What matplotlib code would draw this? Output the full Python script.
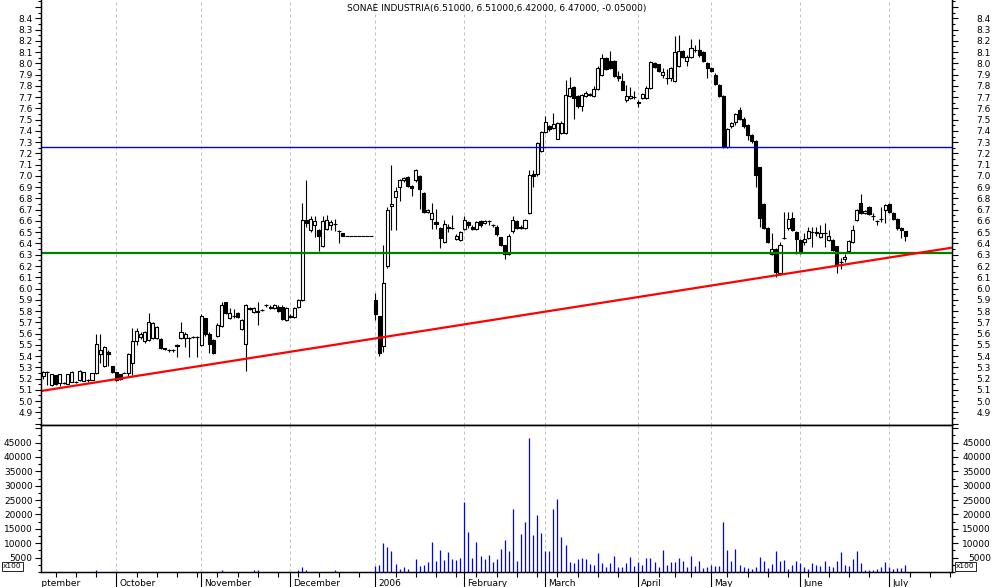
import numpy as np
import pandas as pd
import matplotlib
matplotlib.use('Agg')
import matplotlib.pyplot as plt
from matplotlib.patches import Rectangle
from matplotlib.collections import PatchCollection
from matplotlib.ticker import MultipleLocator, FixedLocator, FuncFormatter
from matplotlib.transforms import Bbox, TransformedBbox, blended_transform_factory, offset_copy

plt.rcParams['font.family'] = ['DejaVu Sans']
plt.rcParams['font.size'] = 6.5

# daily candles (open, high, low, close), one list per month
sep = [(5.22, 5.27, 5.20, 5.26), (5.26, 5.27, 5.14, 5.26), (5.14, 5.24, 5.13, 5.24), (5.23, 5.23, 5.14, 5.15),
       (5.16, 5.24, 5.13, 5.24), (5.16, 5.17, 5.15, 5.16), (5.15, 5.24, 5.15, 5.24), (5.17, 5.27, 5.17, 5.26),
       (5.17, 5.18, 5.16, 5.17), (5.19, 5.28, 5.18, 5.27), (5.18, 5.26, 5.18, 5.26), (5.19, 5.20, 5.17, 5.19),
       (5.19, 5.25, 5.19, 5.25), (5.25, 5.60, 5.24, 5.51), (5.42, 5.60, 5.34, 5.45), (5.31, 5.49, 5.30, 5.48),
       (5.44, 5.45, 5.31, 5.42), (5.31, 5.31, 5.25, 5.26)]
oct_ = [(5.26, 5.26, 5.18, 5.19), (5.24, 5.24, 5.19, 5.20), (5.25, 5.26, 5.25, 5.25), (5.25, 5.43, 5.22, 5.42),
        (5.34, 5.65, 5.23, 5.53), (5.53, 5.65, 5.50, 5.62), (5.57, 5.61, 5.55, 5.60), (5.53, 5.62, 5.52, 5.61),
        (5.54, 5.78, 5.53, 5.70), (5.56, 5.70, 5.55, 5.69), (5.56, 5.67, 5.55, 5.66), (5.55, 5.56, 5.46, 5.47),
        (5.47, 5.47, 5.45, 5.46), (5.45, 5.46, 5.44, 5.45), (5.45, 5.46, 5.44, 5.45), (5.50, 5.51, 5.39, 5.49),
        (5.56, 5.70, 5.55, 5.61), (5.56, 5.61, 5.48, 5.60), (5.56, 5.57, 5.39, 5.56), (5.57, 5.58, 5.56, 5.57),
        (5.57, 5.58, 5.39, 5.57)]
nov = [(5.50, 5.77, 5.49, 5.76), (5.74, 5.74, 5.58, 5.60), (5.60, 5.61, 5.43, 5.51), (5.54, 5.55, 5.42, 5.43),
       (5.58, 5.69, 5.57, 5.68), (5.67, 5.88, 5.66, 5.85), (5.88, 5.88, 5.77, 5.78), (5.74, 5.83, 5.73, 5.78),
       (5.76, 5.82, 5.74, 5.76), (5.78, 5.79, 5.74, 5.75), (5.64, 5.73, 5.63, 5.72), (5.51, 5.86, 5.27, 5.85),
       (5.83, 5.84, 5.81, 5.82), (5.79, 5.84, 5.78, 5.83), (5.79, 5.88, 5.68, 5.80), (5.81, 5.82, 5.80, 5.81),
       (5.85, 5.86, 5.84, 5.85), (5.83, 5.85, 5.82, 5.84), (5.83, 5.86, 5.82, 5.85), (5.84, 5.85, 5.79, 5.80),
       (5.84, 5.85, 5.72, 5.73), (5.72, 5.84, 5.71, 5.83)]
dec = [(5.76, 5.77, 5.74, 5.75), (5.75, 5.84, 5.74, 5.83), (5.84, 5.91, 5.83, 5.90), (5.90, 6.76, 5.89, 6.61),
       (6.61, 6.96, 6.55, 6.58), (6.52, 6.64, 6.50, 6.62), (6.56, 6.64, 6.46, 6.60), (6.52, 6.53, 6.33, 6.47),
       (6.38, 6.64, 6.37, 6.60), (6.53, 6.65, 6.52, 6.61), (6.56, 6.61, 6.52, 6.59), (6.57, 6.62, 6.51, 6.57),
       (6.51, 6.52, 6.40, 6.51), (6.49, 6.49, 6.47, 6.47), (6.47, 6.47, 6.47, 6.47), (6.47, 6.47, 6.47, 6.47),
       (6.47, 6.47, 6.47, 6.47), (6.47, 6.47, 6.47, 6.47), (6.47, 6.47, 6.47, 6.47), (6.47, 6.47, 6.47, 6.47),
       (6.47, 6.47, 6.47, 6.47)]
jan = [(5.90, 5.96, 5.72, 5.77), (5.76, 5.76, 5.40, 5.43), (5.49, 6.39, 5.44, 6.05), (6.20, 6.72, 6.18, 6.70),
       (6.73, 7.10, 6.52, 6.75), (6.81, 6.90, 6.52, 6.87), (6.90, 6.97, 6.78, 6.96), (6.96, 6.99, 6.95, 6.98),
       (6.99, 7.00, 6.90, 6.91), (6.91, 6.92, 6.82, 6.89), (6.96, 7.06, 6.95, 7.05), (7.00, 7.01, 6.71, 6.88),
       (6.85, 6.86, 6.67, 6.68), (6.68, 6.71, 6.67, 6.70), (6.62, 6.76, 6.53, 6.67), (6.59, 6.71, 6.53, 6.57),
       (6.54, 6.55, 6.36, 6.45), (6.41, 6.61, 6.40, 6.57), (6.54, 6.57, 6.50, 6.55), (6.54, 6.65, 6.53, 6.54),
       (6.44, 6.48, 6.43, 6.47), (6.43, 6.51, 6.42, 6.50)]
feb = [(6.53, 6.64, 6.52, 6.61), (6.59, 6.60, 6.54, 6.56), (6.55, 6.56, 6.52, 6.53), (6.53, 6.60, 6.52, 6.59),
       (6.60, 6.61, 6.55, 6.56), (6.58, 6.61, 6.57, 6.60), (6.60, 6.61, 6.56, 6.60), (6.56, 6.57, 6.55, 6.56),
       (6.55, 6.56, 6.47, 6.48), (6.46, 6.46, 6.38, 6.39), (6.39, 6.39, 6.26, 6.31), (6.31, 6.48, 6.30, 6.47),
       (6.51, 6.64, 6.49, 6.61), (6.60, 6.61, 6.53, 6.54), (6.54, 6.56, 6.53, 6.55), (6.54, 6.62, 6.53, 6.61),
       (6.67, 7.05, 6.66, 7.01), (7.02, 7.05, 6.90, 7.00), (7.02, 7.30, 7.00, 7.29), (7.22, 7.40, 7.21, 7.39)]
mar = [(7.39, 7.53, 7.38, 7.48), (7.44, 7.45, 7.40, 7.42), (7.43, 7.56, 7.42, 7.46), (7.33, 7.48, 7.33, 7.47),
       (7.38, 7.49, 7.37, 7.47), (7.38, 7.85, 7.37, 7.72), (7.71, 7.88, 7.70, 7.78), (7.79, 7.80, 7.51, 7.69),
       (7.71, 7.72, 7.60, 7.62), (7.62, 7.73, 7.58, 7.72), (7.71, 7.75, 7.70, 7.74), (7.72, 7.74, 7.71, 7.73),
       (7.71, 7.80, 7.70, 7.77), (7.77, 7.98, 7.76, 7.96), (7.90, 8.08, 7.89, 8.05), (8.05, 8.06, 7.94, 7.95),
       (8.02, 8.11, 7.95, 7.96), (8.02, 8.03, 7.88, 7.89), (7.89, 7.93, 7.84, 7.87), (7.84, 7.91, 7.76, 7.76),
       (7.67, 7.81, 7.66, 7.71), (7.69, 7.79, 7.68, 7.71), (7.70, 7.75, 7.68, 7.70)]
apr = [(7.66, 7.67, 7.61, 7.65), (7.69, 7.74, 7.68, 7.73), (7.69, 7.80, 7.68, 7.78), (7.78, 8.02, 7.77, 8.01),
       (8.00, 8.01, 7.96, 7.97), (7.99, 7.99, 7.92, 7.93), (7.90, 7.96, 7.87, 7.92), (7.87, 7.95, 7.82, 7.87),
       (7.87, 7.97, 7.84, 7.96), (7.84, 8.24, 7.83, 8.10), (7.98, 8.25, 7.97, 8.11), (8.11, 8.12, 8.05, 8.06),
       (8.02, 8.07, 7.98, 8.06), (8.06, 8.22, 8.05, 8.14), (8.12, 8.16, 8.10, 8.12), (8.12, 8.22, 8.06, 8.07),
       (8.10, 8.11, 8.01, 8.02), (8.00, 8.01, 7.87, 7.96)]
may = [(7.96, 7.97, 7.92, 7.93), (7.90, 7.91, 7.81, 7.82), (7.81, 7.82, 7.70, 7.71), (7.71, 7.72, 7.25, 7.26),
       (7.26, 7.43, 7.25, 7.42), (7.44, 7.48, 7.43, 7.47), (7.48, 7.56, 7.45, 7.55), (7.59, 7.61, 7.50, 7.51),
       (7.51, 7.52, 7.43, 7.44), (7.45, 7.46, 7.32, 7.36), (7.36, 7.37, 7.29, 7.31), (7.31, 7.32, 6.90, 7.01),
       (7.08, 7.08, 6.55, 6.63), (6.75, 6.76, 6.53, 6.54), (6.54, 6.55, 6.40, 6.41), (6.31, 6.49, 6.30, 6.35),
       (6.35, 6.36, 6.10, 6.15), (6.14, 6.41, 6.12, 6.39), (6.45, 6.68, 6.44, 6.45), (6.54, 6.68, 6.52, 6.62),
       (6.63, 6.68, 6.51, 6.52), (6.50, 6.51, 6.31, 6.44)]
jun = [(6.43, 6.44, 6.31, 6.33), (6.41, 6.49, 6.39, 6.44), (6.45, 6.55, 6.44, 6.51), (6.50, 6.55, 6.37, 6.50),
       (6.50, 6.55, 6.47, 6.49), (6.46, 6.56, 6.45, 6.49), (6.49, 6.58, 6.37, 6.49), (6.43, 6.52, 6.42, 6.47),
       (6.43, 6.44, 6.33, 6.34), (6.38, 6.38, 6.14, 6.22), (6.24, 6.27, 6.17, 6.24), (6.26, 6.31, 6.24, 6.28),
       (6.33, 6.43, 6.32, 6.42), (6.41, 6.56, 6.40, 6.52), (6.61, 6.71, 6.60, 6.70), (6.76, 6.84, 6.66, 6.67),
       (6.67, 6.70, 6.66, 6.69), (6.72, 6.73, 6.65, 6.66), (6.64, 6.67, 6.61, 6.64), (6.60, 6.61, 6.56, 6.60),
       (6.62, 6.72, 6.59, 6.62), (6.70, 6.75, 6.58, 6.74)]
jul = [(6.75, 6.76, 6.67, 6.68), (6.67, 6.68, 6.61, 6.62), (6.62, 6.63, 6.52, 6.54), (6.54, 6.55, 6.45, 6.52),
       (6.51, 6.51, 6.42, 6.47)]

# volume (x100)
vol_sep = [0] * 13 + [700] + [0] * 4
vol_oct = [0] * 21
vol_nov = [0, 0, 0, 0, 0, 700, 0, 0, 0, 0, 0, 0, 0, 700, 700, 0, 0, 0, 0, 0, 0, 0]
vol_dec = [0, 0, 700, 1850, 700, 0, 0, 0, 0, 0, 0, 700, 0, 0, 0, 0, 0, 0, 0, 0, 0]
vol_jan = [2200, 2550, 10100, 8700, 7300, 2800, 1040, 1850, 1040, 0, 4500, 2100, 2430, 3480, 10440, 3830,
           7650, 4170, 6960, 4520, 4170, 4870]
vol_feb = [24350, 13910, 4870, 10440, 5560, 4520, 5910, 3600, 4600, 8000, 11130, 7300, 21910, 3940, 13220,
           17390, 46600, 12870, 19830, 13560]
vol_mar = [7190, 7190, 21910, 25390, 12170, 9390, 3480, 3130, 4520, 4870, 4520, 2780, 2430, 6610, 3130,
           1740, 3130, 5560, 1740, 1740, 3130, 5220, 2090]
vol_apr = [3480, 2430, 4870, 4870, 3480, 1740, 7650, 2430, 3480, 3480, 4870, 3830, 1740, 5560, 2090, 3830,
           1390, 1740]
vol_may = [2430, 2090, 2090, 17390, 7650, 3830, 8000, 2430, 1740, 1390, 1040, 1740, 5220, 3830, 1390, 2780,
           7300, 3830, 4170, 1040, 2430, 3830]
vol_jun = [3130, 1740, 1040, 3130, 2430, 2090, 3830, 2090, 1740, 3830, 6960, 2430, 2090, 4520, 7300, 3130,
           700, 700, 700, 1040, 1740, 3480]
vol_jul = [1740, 1040, 1390, 1390, 2430]

resistance = 7.255
support = 6.318
trend_x = [-0.6, 224.5]
trend_y = [5.09, 6.363]

month_names = ['September', 'October', 'November', 'December', '2006', 'February', 'March',
               'April', 'May', 'June', 'July']
holidays = ['2005-12-26', '2006-04-14', '2006-04-17', '2006-05-01']

ohlc = np.array(sep + oct_ + nov + dec + jan + feb + mar + apr + may + jun + jul)
vol = np.array(vol_sep + vol_oct + vol_nov + vol_dec + vol_jan + vol_feb + vol_mar + vol_apr
               + vol_may + vol_jun + vol_jul)
o, h, l, c = ohlc.T
n = len(ohlc)
x = np.arange(n)

# trading calendar, index 0 = 7 Sep 2005
days = pd.bdate_range('2005-09-01', '2006-07-31')
days = days[~days.isin(pd.to_datetime(holidays))]
first = list(days).index(pd.Timestamp('2005-09-07'))
pos = np.arange(len(days)) - first
per = days.to_period('M')
month_start = pos[np.r_[True, per[1:] != per[:-1]]][:len(month_names)]
wk = days.to_period('W')
week_start = pos[np.r_[True, wk[1:] != wk[:-1]]]
week_start = np.array([w for w in week_start if w not in month_start])

W, H = 994, 587
def box(x0, y0, x1, y1):
    return [x0 / W, 1 - y1 / H, (x1 - x0) / W, (y1 - y0) / H]

fig = plt.figure(figsize=(W / 100, H / 100), dpi=100)
ax = fig.add_axes(box(41, 0, 952, 425))
axv = fig.add_axes(box(41, 425, 952, 572), sharex=ax)
xlim = (-0.6, 224.5)
ax.set_xlim(*xlim)
ax.set_ylim(4.788, 8.5625)
axv.set_ylim(0, 51130)

for a in (ax, axv):
    for m in month_start[1:]:
        a.axvline(m, color='#c0c0c0', lw=0.72, ls=(0, (3, 3)), zorder=0)

# candles
lw = 0.8
ax.vlines(x, l, h, color='k', lw=lw, zorder=2)
bw = 0.76
up = c > o + 1e-9
dn = c < o - 1e-9
eq = ~(up | dn)
ax.add_collection(PatchCollection([Rectangle((xi - bw / 2, oi), bw, ci - oi)
                                   for xi, oi, ci in zip(x[up], o[up], c[up])],
                                  facecolor='white', edgecolor='k', lw=lw, zorder=3))
ax.add_collection(PatchCollection([Rectangle((xi - bw / 2, ci), bw, oi - ci)
                                   for xi, oi, ci in zip(x[dn], o[dn], c[dn])],
                                  facecolor='k', edgecolor='k', lw=lw, zorder=3))
ax.hlines(c[eq], x[eq] - 0.5, x[eq] + 0.5, color='k', lw=lw, zorder=3)

ax.axhline(resistance, color='#0000ff', lw=1.0, zorder=4)
ax.axhline(support, color='#008000', lw=1.6, zorder=4)
ax.plot(trend_x, trend_y, color='#ff0000', lw=1.6, zorder=4, solid_capstyle='butt')

axv.vlines(x[vol > 0], 0, vol[vol > 0], color='#0000ff', lw=0.9)

title = 'SONAE INDUSTRIA(%.5f, %.5f,%.5f, %.5f, %.5f)' % (o[-1], h[-1], l[-1], c[-1], c[-1] - c[-2])
fig.text(497 / W, 1 - 8 / H, title, ha='center', va='center', fontsize=6.5)

# y axes: left on main axes, right on twins
def setup_y(a, major, minor, lo, hi, fmt):
    a.yaxis.set_major_locator(FixedLocator(major))
    a.yaxis.set_minor_locator(MultipleLocator(minor))
    a.yaxis.set_major_formatter(FuncFormatter(lambda v, p: fmt % v if lo - 1e-6 <= v <= hi + 1e-6 else ''))
    a.tick_params(axis='y', which='major', length=4, width=0.8, direction='out', labelsize=6.5)
    a.tick_params(axis='y', which='minor', length=2.2, width=0.8, direction='out')

price_major = np.round(np.arange(4.8, 8.56, 0.1), 2)
vol_major = np.arange(5000, 50001, 5000)
axr = ax.twinx()
axvr = axv.twinx()
axr.set_ylim(ax.get_ylim())
axvr.set_ylim(axv.get_ylim())
setup_y(ax, price_major, 0.05, 4.9, 8.4, '%.1f')
setup_y(axr, price_major, 0.05, 4.9, 8.4, '%.1f')
setup_y(axv, vol_major, 2500, 5000, 45000, '%d')
setup_y(axvr, vol_major, 2500, 5000, 45000, '%d')
ax.tick_params(axis='y', pad=2)
axv.tick_params(axis='y', pad=2)
for a in (axr, axvr):
    a.tick_params(axis='y', pad=24)
    for t in a.get_yticklabels():
        t.set_horizontalalignment('right')

for a in (ax, axr):
    a.spines['top'].set_visible(False)
for a in (ax, axv, axr, axvr):
    for s in a.spines.values():
        s.set_linewidth(0.9)
ax.tick_params(axis='x', bottom=False, labelbottom=False)
axr.tick_params(axis='x', bottom=False, labelbottom=False)

axv.xaxis.set_major_locator(FixedLocator(month_start))
axv.xaxis.set_minor_locator(FixedLocator(week_start))
axv.tick_params(axis='x', which='major', length=11, width=0.8, labelbottom=False)
axv.tick_params(axis='x', which='minor', length=3.6, width=0.8)
axvr.tick_params(axis='x', bottom=False, labelbottom=False)

trans = offset_copy(blended_transform_factory(axv.transData, axv.transAxes), fig=fig, x=3, y=-6.5, units='dots')
clip = TransformedBbox(Bbox.from_extents(41 / W, 0, 1, 1), fig.transFigure)
for m, name in zip(month_start, month_names):
    t = axv.text(m, 0, name, transform=trans, ha='left', va='top', fontsize=6.5, clip_on=True)
    t.set_clip_box(clip)

for xp in (3, 956):
    fig.text(xp / W, 1 - 566.5 / H, 'x100', fontsize=5.3, ha='left', va='center',
             bbox=dict(boxstyle='square,pad=0.2', fc='white', ec='k', lw=0.6))

ax.set_xlim(*xlim)
fig.savefig('out.png', dpi=100)
